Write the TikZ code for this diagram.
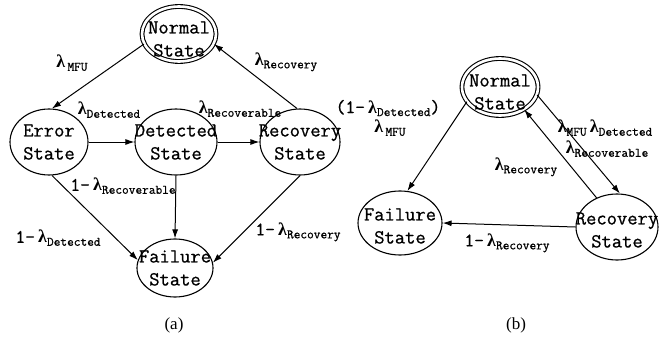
\documentclass[tikz,border=0pt]{standalone}
\usepackage{fontspec}
\newfontfamily\stf[FakeBold=0.8]{Latin Modern Mono}
\newfontfamily\lamfont{Liberation Serif}
\newfontfamily\capfont{Liberation Serif}
\usetikzlibrary{shapes.geometric,arrows.meta}
\newcommand\lm[1]{{\lamfont\bfseries\fontsize{18}{18}\selectfont λ}\raisebox{-3pt}{\fontsize{13}{13}\selectfont #1}}
\newcommand\zb[2][0pt]{\makebox[0pt]{\raisebox{#1}[\height][\depth]{#2}}}
\begin{document}
\begin{tikzpicture}[x=1pt,y=-1pt,
 st/.style={ellipse,draw,line width=1.1pt,inner sep=0pt,inner ysep=-8pt,align=center,font=\stf\fontsize{20}{23}\selectfont},
 dbl/.style={double,double distance=2.6pt},
 arr/.style={line width=1pt,-{Latex[length=9pt,width=6pt]}},
 lab/.style={inner sep=0pt,font=\stf\fontsize{19}{20}\selectfont},
 captext/.style={inner sep=0pt,font=\capfont\fontsize{17}{20}\selectfont}]
\useasboundingbox (0,0) rectangle (667,337);
% (a)
\node[st,dbl,minimum width=74pt,minimum height=55pt] (nA) at (179,34) {\zb[-5pt]{Normal}\\\zb[-5pt]{State}};
\node[st,minimum width=78pt,minimum height=66pt] (eA) at (49,142) {\zb{Error}\\\zb{State}};
\node[st,minimum width=82pt,minimum height=66pt] (dA) at (176,142) {\zb{Detected}\\\zb{State}};
\node[st,minimum width=80pt,minimum height=66pt] (rA) at (300,142) {\zb{Recovery}\\\zb{State}};
\node[st,minimum width=76pt,minimum height=58pt] (fA) at (175,268) {\zb{Failure}\\\zb{State}};
\draw[arr] (nA.196) -- (eA.85);
\draw[arr] (rA.95) -- (nA.344);
\draw[arr] (eA.east) -- (dA.west);
\draw[arr] (dA.east) -- (rA.west);
\draw[arr] (eA.275) -- (fA.168);
\draw[arr] (dA.south) -- (fA.north);
\draw[arr] (rA.270) -- (fA.8);
\node[lab] (l1) at (72,63) {\lm{\,MFU}};
\node[lab] (l2) at (109,110) {\lm{Detected}};
\node[lab] (l3) at (240,109) {\lm{Recoverable}};
\node[lab] (l4) at (286,62) {\lm{Recovery}};
\node[lab] (l5) at (58,238) {1-\,\lm{Detected}};
\node[lab] (l6) at (123,186) {1-\,\lm{Recoverable}};
\node[lab] (l7) at (298,232) {1-\,\lm{Recovery}};
\node[captext] (ca) at (174,325) {(a)};
% (b)
\node[st,dbl,minimum width=76pt,minimum height=57pt] (nB) at (500,87) {\zb[-5pt]{Normal}\\\zb[-5pt]{State}};
\node[st,minimum width=84pt,minimum height=64pt] (fB) at (400,223) {\zb[-3pt]{Failure}\\\zb[-3pt]{State}};
\node[st,minimum width=82pt,minimum height=66pt] (rB) at (617,227) {\zb[-3pt]{Recovery}\\\zb[-3pt]{State}};
\draw[arr] (nB.204) -- (fB.77);
\draw[arr] (rB.125) -- (nB.317);
\draw[arr] (nB.348) -- (rB.85);
\draw[arr] (rB.west) -- (fB.east);
\node[lab] (m1) at (388,108) {(1-\,\lm{Detected})};
\node[lab] (m2) at (390,128) {\lm{\,MFU}};
\node[lab] (m3) at (605,128) {\lm{MFU}\,\lm{Detected}};
\node[lab] (m4) at (607,149) {\lm{Recoverable}};
\node[lab] (m5) at (526,167) {\lm{Recovery}};
\node[lab] (m6) at (507,243) {1-\,\lm{Recovery}};
\node[captext] (cb) at (516,325) {(b)};
\end{tikzpicture}
\end{document}
